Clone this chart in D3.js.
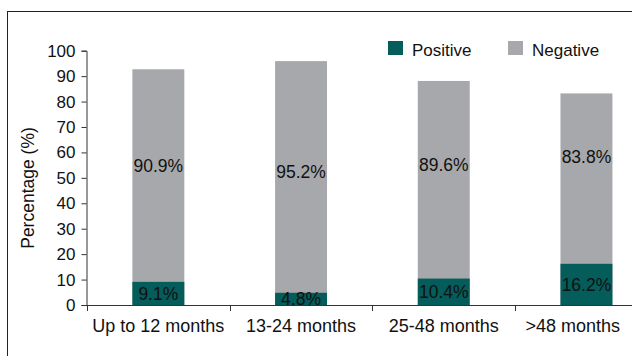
<!DOCTYPE html>
<meta charset="utf-8">
<script src="https://d3js.org/d3.v7.min.js"></script>
<style>
  body { margin: 0; background: #fff; }
  text { font-family: "Liberation Sans", Arial, sans-serif; fill: #111; }
</style>
<div id="chart"></div>
<script>

// categories and values (percent)
const groups = ["Up to 12 months", "13-24 months", "25-48 months", ">48 months"];
const positive = [9.1, 4.8, 10.4, 16.2];
const negative = [90.9, 95.2, 89.6, 83.8];
// height of the grey bars as drawn in the source picture
const negativeBarTop = [92.7, 95.9, 88.1, 83.2];
const yTicks = [0, 10, 20, 30, 40, 50, 60, 70, 80, 90, 100];

const W = 632, H = 356;
const colPos = "#045c5b", colNeg = "#a7a8ab";

const svg = d3.select("#chart").append("svg")
  .attr("width", W).attr("height", H);

// outer frame (cropped on right and bottom)
svg.append("rect")
  .attr("x", 7.5).attr("y", 11.5)
  .attr("width", 800).attr("height", 500)
  .attr("fill", "none").attr("stroke", "#222").attr("stroke-width", 1);

const x = d3.scaleBand()
  .domain(groups)
  .range([87, 657.8])
  .paddingInner(0.636)
  .paddingOuter(0.318);

const y = d3.scaleLinear().domain([0, 100]).range([305, 50.7]);

const rows = groups.map((g, i) => ({
  group: g, pos: positive[i], neg: negative[i], top: negativeBarTop[i]
}));

// grey bars
svg.selectAll(".neg")
  .data(rows)
  .join("rect")
    .attr("class", "neg")
    .attr("x", d => x(d.group))
    .attr("y", d => y(d.top))
    .attr("width", x.bandwidth())
    .attr("height", d => y(0) - y(d.top))
    .attr("fill", colNeg);

// teal bars
svg.selectAll(".pos")
  .data(rows)
  .join("rect")
    .attr("class", "pos")
    .attr("x", d => x(d.group))
    .attr("y", d => y(d.pos))
    .attr("width", x.bandwidth())
    .attr("height", d => y(0) - y(d.pos))
    .attr("fill", colPos);

// value labels, centred in each stacked segment
svg.selectAll(".lblPos")
  .data(rows)
  .join("text")
    .attr("x", d => x(d.group) + x.bandwidth() / 2)
    .attr("y", d => y(d.pos / 2))
    .attr("dy", "0.35em")
    .attr("text-anchor", "middle")
    .style("font-size", "17.5px")
    .text(d => d.pos.toFixed(1) + "%");

svg.selectAll(".lblNeg")
  .data(rows)
  .join("text")
    .attr("x", d => x(d.group) + x.bandwidth() / 2)
    .attr("y", d => y(d.pos + d.neg / 2))
    .attr("dy", "0.35em")
    .attr("text-anchor", "middle")
    .style("font-size", "17.5px")
    .text(d => d.neg.toFixed(1) + "%");

// y axis
const yAxis = svg.append("g")
  .attr("transform", "translate(86.5,0)")
  .call(d3.axisLeft(y).tickValues(yTicks).tickSize(5).tickPadding(6));
yAxis.select(".domain").attr("stroke", "#333");
yAxis.selectAll("line").attr("stroke", "#333");
yAxis.selectAll("text").style("font-size", "17px").attr("fill", "#111");

// x axis: line plus ticks at band boundaries
const step = x.step();
const bounds = groups.map(g => x(g) + x.bandwidth() / 2 - step / 2);
svg.append("line")
  .attr("x1", 86.5).attr("x2", W)
  .attr("y1", 305.5).attr("y2", 305.5)
  .attr("stroke", "#333");
svg.selectAll(".xtick")
  .data(bounds)
  .join("line")
    .attr("x1", d => Math.round(d) + 0.5).attr("x2", d => Math.round(d) + 0.5)
    .attr("y1", 305).attr("y2", 311)
    .attr("stroke", "#333");

const xl = svg.selectAll(".xlab")
  .data(groups)
  .join("text")
    .attr("x", d => x(d) + x.bandwidth() / 2)
    .attr("y", 332)
    .attr("text-anchor", "middle")
    .style("font-size", "18px")
    .text(d => d);
// keep labels inside the frame, like the source does
xl.each(function() {
  const b = this.getBBox();
  if (b.x + b.width > W - 12) {
    d3.select(this).attr("x", +d3.select(this).attr("x") - (b.x + b.width - (W - 12)));
  }
});

// y title
svg.append("text")
  .attr("transform", "translate(34,188) rotate(-90)")
  .attr("text-anchor", "middle")
  .style("font-size", "17.5px")
  .text("Percentage (%)");

// legend
const legend = [
  {name: "Positive", color: colPos, x: 388},
  {name: "Negative", color: colNeg, x: 508}
];
const lg = svg.selectAll(".leg")
  .data(legend)
  .join("g")
    .attr("transform", d => `translate(${d.x},41)`);
lg.append("rect").attr("width", 15).attr("height", 14).attr("fill", d => d.color);
lg.append("text")
  .attr("x", 24).attr("y", 14.5)
  .style("font-size", "17px")
  .text(d => d.name);

</script>
